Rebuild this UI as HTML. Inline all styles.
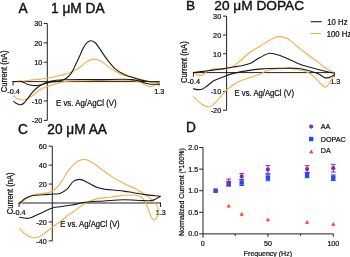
<!DOCTYPE html>
<html><head><meta charset="utf-8"><style>
html,body{margin:0;padding:0;background:#fff;width:350px;height:257px;overflow:hidden}
svg{display:block;filter:blur(0.4px)}
.t{stroke-width:0.4px}
text{font-family:"Liberation Sans",sans-serif;fill:#111;stroke:#111;stroke-width:0.22px}
</style></head><body>
<svg width="350" height="257" viewBox="0 0 350 257">
<text class="t" transform="translate(18.60,12.60) scale(1,1.06)" font-size="13.7" text-anchor="start">A</text>
<text class="t" transform="translate(51.00,12.50) scale(1,1.05)" font-size="13.7" text-anchor="start">1 μM DA</text>
<line x1="47.30" y1="23.50" x2="47.30" y2="120.40" stroke="#222" stroke-width="1.0"/>
<line x1="43.70" y1="23.46" x2="47.30" y2="23.46" stroke="#222" stroke-width="1.0"/>
<text transform="translate(42.30,26.26) scale(1,1.1)" font-size="7.3" text-anchor="end">30</text>
<line x1="43.70" y1="42.84" x2="47.30" y2="42.84" stroke="#222" stroke-width="1.0"/>
<text transform="translate(42.30,45.64) scale(1,1.1)" font-size="7.3" text-anchor="end">20</text>
<line x1="43.70" y1="62.22" x2="47.30" y2="62.22" stroke="#222" stroke-width="1.0"/>
<text transform="translate(42.30,65.02) scale(1,1.1)" font-size="7.3" text-anchor="end">10</text>
<line x1="43.70" y1="100.98" x2="47.30" y2="100.98" stroke="#222" stroke-width="1.0"/>
<text transform="translate(42.30,103.78) scale(1,1.1)" font-size="7.3" text-anchor="end">-10</text>
<line x1="43.70" y1="120.36" x2="47.30" y2="120.36" stroke="#222" stroke-width="1.0"/>
<text transform="translate(42.30,123.16) scale(1,1.1)" font-size="7.3" text-anchor="end">-20</text>
<line x1="13.00" y1="81.60" x2="159.00" y2="81.60" stroke="#222" stroke-width="1.0"/>
<line x1="13.00" y1="81.10" x2="13.00" y2="85.60" stroke="#222" stroke-width="1.0"/>
<line x1="159.00" y1="81.10" x2="159.00" y2="85.60" stroke="#222" stroke-width="1.0"/>
<text transform="translate(13.50,94.00) scale(1,1.1)" font-size="7.3" text-anchor="middle">-0.4</text>
<text transform="translate(159.20,93.90) scale(1,1.1)" font-size="7.3" text-anchor="middle">1.3</text>
<text transform="translate(7.40,71.40) rotate(-90) scale(1,1.1)" font-size="7.6" text-anchor="middle">Current (nA)</text>
<text transform="translate(56.00,105.60) scale(1,1.1)" font-size="7.85" text-anchor="start">E vs. Ag/AgCl (V)</text>
<path d="M13.00,81.60 C15.43,81.57 17.54,81.69 20.30,81.50 C23.94,81.25 28.61,80.42 32.90,79.90 C37.37,79.36 42.05,79.03 46.60,78.30 C51.18,77.57 55.97,76.59 60.30,75.50 C64.30,74.50 68.52,73.46 71.70,72.10 C74.18,71.04 76.05,69.79 78.00,68.50 C79.83,67.28 81.41,65.87 83.10,64.60 C84.74,63.37 86.22,61.92 88.00,61.00 C89.78,60.08 91.82,59.18 93.80,59.10 C95.82,59.02 97.93,59.64 100.00,60.60 C102.50,61.76 104.99,64.33 107.50,66.10 C109.96,67.83 112.38,69.62 114.90,71.10 C117.35,72.54 119.65,73.91 122.40,74.90 C125.43,76.00 129.18,76.44 132.40,77.20 C135.40,77.91 138.17,78.53 141.10,79.30 C144.13,80.09 147.25,81.46 150.30,81.90 C153.21,82.32 156.10,81.97 159.00,82.00" stroke="#f8ae45" stroke-width="1.1" fill="none" stroke-linejoin="round" stroke-linecap="round"/>
<path d="M159.00,82.50 C157.00,83.67 154.92,85.36 153.00,86.00 C151.45,86.51 150.03,86.78 148.50,86.50 C146.71,86.17 144.85,84.56 143.00,83.70 C141.18,82.86 139.37,81.93 137.50,81.40 C135.70,80.88 134.60,80.71 132.00,80.50 C125.76,79.99 110.83,80.36 100.00,80.50 C88.84,80.65 74.65,80.19 66.00,81.40 C60.52,82.17 56.99,83.51 52.80,84.80 C48.88,86.00 45.06,86.94 41.60,88.80 C38.12,90.67 34.89,94.14 32.00,96.00 C29.82,97.41 27.79,98.65 26.00,99.30 C24.69,99.77 23.71,100.05 22.40,100.00 C20.78,99.94 18.54,99.25 17.00,98.50 C15.67,97.85 14.73,96.83 13.60,96.00" stroke="#f8ae45" stroke-width="1.1" fill="none" stroke-linejoin="round" stroke-linecap="round"/>
<path d="M13.00,81.60 C15.60,81.53 18.79,81.06 20.80,81.40 C22.13,81.62 22.88,82.13 24.00,82.60 C25.27,83.14 26.56,84.02 28.00,84.50 C29.54,85.01 31.42,85.34 33.00,85.50 C34.40,85.64 35.60,85.64 37.00,85.50 C38.58,85.34 40.40,84.90 42.00,84.50 C43.52,84.12 44.84,83.60 46.40,83.20 C48.15,82.76 50.09,82.33 52.00,82.00 C53.96,81.66 56.06,81.59 58.00,81.20 C59.89,80.82 61.77,80.47 63.50,79.70 C65.27,78.91 67.06,77.83 68.50,76.50 C69.97,75.14 71.05,73.47 72.20,71.60 C73.54,69.42 74.67,66.65 75.90,64.10 C77.17,61.46 78.49,58.66 79.70,56.00 C80.85,53.46 81.81,50.73 83.00,48.50 C84.03,46.57 84.96,44.61 86.30,43.30 C87.48,42.14 88.96,40.94 90.40,40.80 C91.86,40.66 93.66,41.52 95.00,42.50 C96.51,43.61 97.48,45.57 98.80,47.40 C100.39,49.61 102.23,52.67 103.80,54.90 C105.10,56.75 106.02,58.03 107.50,59.90 C109.51,62.43 112.25,66.24 114.90,68.60 C117.25,70.69 119.83,72.25 122.40,73.60 C124.84,74.88 127.13,75.61 129.90,76.60 C133.24,77.79 137.52,79.23 141.10,80.10 C144.29,80.87 147.27,81.46 150.30,81.70 C153.23,81.94 156.10,81.63 159.00,81.60" stroke="#1a1a1a" stroke-width="1.1" fill="none" stroke-linejoin="round" stroke-linecap="round"/>
<path d="M159.00,84.20 C156.10,84.20 152.73,84.44 150.30,84.20 C148.51,84.03 147.21,83.75 145.70,83.30 C144.14,82.83 142.92,81.95 141.10,81.40 C138.61,80.65 135.98,79.99 132.00,79.60 C124.60,78.88 111.26,79.54 100.00,79.60 C87.41,79.66 69.42,79.21 60.00,80.00 C54.81,80.43 51.32,80.90 48.00,81.90 C45.47,82.66 43.54,83.72 41.60,84.80 C39.84,85.78 38.34,86.74 36.80,88.00 C35.13,89.37 33.54,91.02 32.00,92.80 C30.33,94.73 28.73,97.30 27.20,99.20 C25.91,100.80 24.74,102.55 23.50,103.50 C22.60,104.19 21.80,104.70 20.80,104.80 C19.66,104.91 18.19,104.33 17.00,103.80 C15.79,103.27 14.73,102.33 13.60,101.60" stroke="#1a1a1a" stroke-width="1.1" fill="none" stroke-linejoin="round" stroke-linecap="round"/>
<text class="t" transform="translate(186.00,10.00) scale(1,1.0)" font-size="13.7" text-anchor="start">B</text>
<text class="t" transform="translate(214.30,10.00) scale(1,1.0)" font-size="13.7" text-anchor="start">20 μM DOPAC</text>
<line x1="226.60" y1="16.10" x2="226.60" y2="110.20" stroke="#222" stroke-width="1.0"/>
<line x1="223.00" y1="16.14" x2="226.60" y2="16.14" stroke="#222" stroke-width="1.0"/>
<text transform="translate(221.20,18.94) scale(1,1.1)" font-size="7.3" text-anchor="end">30</text>
<line x1="223.00" y1="34.96" x2="226.60" y2="34.96" stroke="#222" stroke-width="1.0"/>
<text transform="translate(221.20,37.76) scale(1,1.1)" font-size="7.3" text-anchor="end">20</text>
<line x1="223.00" y1="53.78" x2="226.60" y2="53.78" stroke="#222" stroke-width="1.0"/>
<text transform="translate(221.20,56.58) scale(1,1.1)" font-size="7.3" text-anchor="end">10</text>
<line x1="223.00" y1="91.42" x2="226.60" y2="91.42" stroke="#222" stroke-width="1.0"/>
<text transform="translate(221.20,94.22) scale(1,1.1)" font-size="7.3" text-anchor="end">-10</text>
<line x1="223.00" y1="110.24" x2="226.60" y2="110.24" stroke="#222" stroke-width="1.0"/>
<text transform="translate(221.20,113.04) scale(1,1.1)" font-size="7.3" text-anchor="end">-20</text>
<line x1="193.40" y1="72.60" x2="334.50" y2="72.60" stroke="#222" stroke-width="1.0"/>
<line x1="193.40" y1="72.10" x2="193.40" y2="76.60" stroke="#222" stroke-width="1.0"/>
<line x1="334.50" y1="72.10" x2="334.50" y2="76.60" stroke="#222" stroke-width="1.0"/>
<text transform="translate(193.70,84.40) scale(1,1.1)" font-size="7.3" text-anchor="middle">-0.4</text>
<text transform="translate(335.20,84.40) scale(1,1.1)" font-size="7.3" text-anchor="middle">1.3</text>
<text transform="translate(187.10,62.20) rotate(-90) scale(1,1.1)" font-size="7.6" text-anchor="middle">Current (nA)</text>
<text transform="translate(234.60,96.00) scale(1,1.1)" font-size="7.7" text-anchor="start">E vs. Ag/AgCl (V)</text>
<line x1="310.80" y1="21.70" x2="321.70" y2="21.70" stroke="#1a1a1a" stroke-width="1.1"/>
<text transform="translate(327.20,24.50) scale(1,1.1)" font-size="7.8" text-anchor="start">10 Hz</text>
<line x1="310.60" y1="33.50" x2="320.90" y2="33.50" stroke="#f8ae45" stroke-width="1.1"/>
<text transform="translate(326.70,36.50) scale(1,1.1)" font-size="7.8" text-anchor="start">100 Hz</text>
<path d="M193.40,72.60 C194.87,73.33 196.43,74.34 197.80,74.80 C198.90,75.17 199.79,75.58 200.90,75.40 C202.34,75.17 204.07,73.77 205.60,72.80 C207.17,71.81 208.45,70.16 210.20,69.50 C212.05,68.81 214.47,68.90 216.50,68.90 C218.40,68.90 219.89,69.55 222.00,69.40 C224.91,69.20 229.26,68.45 232.30,67.00 C235.23,65.60 237.30,63.23 240.00,61.00 C243.15,58.41 246.55,54.80 250.00,52.30 C253.23,49.95 256.68,48.34 260.00,46.30 C263.34,44.24 266.68,41.69 270.00,40.00 C273.01,38.47 275.97,36.55 279.00,36.40 C281.97,36.25 285.07,37.48 288.00,39.00 C291.43,40.78 294.76,44.43 298.00,47.00 C301.05,49.42 303.80,51.67 306.90,54.00 C310.18,56.47 314.08,59.04 317.20,61.40 C319.90,63.44 322.07,65.55 324.60,67.30 C327.01,68.97 330.09,70.64 332.00,71.70 C333.18,72.35 333.93,72.70 334.90,73.20" stroke="#f8ae45" stroke-width="1.1" fill="none" stroke-linejoin="round" stroke-linecap="round"/>
<path d="M334.90,73.60 C333.27,76.40 331.75,79.61 330.00,82.00 C328.52,84.03 326.95,87.05 325.30,87.20 C323.77,87.34 322.07,84.93 320.50,83.50 C318.76,81.91 317.18,79.69 315.40,78.00 C313.68,76.36 311.89,74.69 310.00,73.50 C308.25,72.40 306.37,71.62 304.50,71.00 C302.70,70.40 301.13,70.17 299.00,69.80 C296.09,69.30 292.16,68.66 288.60,68.50 C284.87,68.33 280.81,68.53 277.10,68.90 C273.59,69.25 269.77,69.61 266.90,70.60 C264.59,71.39 263.32,72.78 261.00,73.80 C257.95,75.15 253.74,76.27 250.00,77.60 C246.08,79.00 241.87,79.97 238.00,82.00 C233.85,84.18 229.23,87.55 226.00,90.50 C223.35,92.92 221.69,95.66 219.60,98.00 C217.70,100.13 215.93,102.44 214.00,104.00 C212.38,105.31 210.84,106.83 209.00,107.00 C206.95,107.19 204.48,105.85 202.20,104.50 C199.32,102.79 196.40,99.43 193.50,96.90" stroke="#f8ae45" stroke-width="1.1" fill="none" stroke-linejoin="round" stroke-linecap="round"/>
<path d="M193.40,72.60 C198.93,71.90 204.92,71.16 210.00,70.50 C214.32,69.94 218.06,69.49 222.00,68.90 C225.85,68.32 230.11,67.52 233.40,67.00 C235.90,66.60 237.58,66.48 240.00,66.00 C243.00,65.40 246.76,64.84 250.00,63.50 C253.44,62.07 256.60,59.22 260.00,57.50 C263.28,55.84 266.62,53.61 270.00,53.30 C273.29,53.00 276.71,54.46 280.00,55.50 C283.38,56.57 286.68,58.25 290.00,59.70 C293.34,61.15 296.41,62.87 300.00,64.20 C303.96,65.67 308.37,66.79 312.80,68.00 C317.52,69.29 323.49,70.77 327.50,71.70 C330.25,72.34 332.17,72.70 334.50,73.20" stroke="#1a1a1a" stroke-width="1.1" fill="none" stroke-linejoin="round" stroke-linecap="round"/>
<path d="M334.50,74.70 C332.67,75.67 330.78,77.16 329.00,77.60 C327.50,77.97 326.11,78.03 324.60,77.60 C322.70,77.05 320.94,74.95 318.70,73.90 C316.10,72.68 312.93,71.87 309.80,71.00 C306.39,70.05 303.14,68.99 299.00,68.50 C293.59,67.85 286.25,68.23 280.00,68.30 C273.92,68.37 267.91,68.42 262.00,68.90 C256.22,69.37 250.02,70.26 244.90,71.10 C240.67,71.79 237.19,72.36 233.40,73.40 C229.55,74.45 225.53,76.05 222.00,77.40 C218.89,78.59 215.87,79.49 213.30,81.00 C210.92,82.40 209.01,84.56 207.00,86.00 C205.27,87.24 203.74,88.61 202.00,89.20 C200.40,89.74 198.52,89.71 197.00,89.60 C195.69,89.51 194.60,89.07 193.40,88.80" stroke="#1a1a1a" stroke-width="1.1" fill="none" stroke-linejoin="round" stroke-linecap="round"/>
<text class="t" transform="translate(18.00,134.00) scale(1,1.04)" font-size="13.7" text-anchor="start">C</text>
<text class="t" transform="translate(47.30,134.20) scale(1,1.04)" font-size="13.7" text-anchor="start">20 μM AA</text>
<line x1="52.30" y1="146.20" x2="52.30" y2="240.90" stroke="#222" stroke-width="1.0"/>
<line x1="48.70" y1="146.18" x2="52.30" y2="146.18" stroke="#222" stroke-width="1.0"/>
<text transform="translate(46.80,148.98) scale(1,1.1)" font-size="7.3" text-anchor="end">60</text>
<line x1="48.70" y1="165.12" x2="52.30" y2="165.12" stroke="#222" stroke-width="1.0"/>
<text transform="translate(46.80,167.92) scale(1,1.1)" font-size="7.3" text-anchor="end">40</text>
<line x1="48.70" y1="184.06" x2="52.30" y2="184.06" stroke="#222" stroke-width="1.0"/>
<text transform="translate(46.80,186.86) scale(1,1.1)" font-size="7.3" text-anchor="end">20</text>
<line x1="48.70" y1="221.94" x2="52.30" y2="221.94" stroke="#222" stroke-width="1.0"/>
<text transform="translate(46.80,224.74) scale(1,1.1)" font-size="7.3" text-anchor="end">-20</text>
<line x1="48.70" y1="240.88" x2="52.30" y2="240.88" stroke="#222" stroke-width="1.0"/>
<text transform="translate(46.80,243.68) scale(1,1.1)" font-size="7.3" text-anchor="end">-40</text>
<line x1="19.10" y1="203.00" x2="160.50" y2="203.00" stroke="#222" stroke-width="1.0"/>
<line x1="19.10" y1="202.50" x2="19.10" y2="207.00" stroke="#222" stroke-width="1.0"/>
<line x1="160.50" y1="202.50" x2="160.50" y2="207.00" stroke="#222" stroke-width="1.0"/>
<text transform="translate(19.30,215.00) scale(1,1.1)" font-size="7.3" text-anchor="middle">-0.4</text>
<text transform="translate(160.80,215.00) scale(1,1.1)" font-size="7.3" text-anchor="middle">1.3</text>
<text transform="translate(12.60,193.30) rotate(-90) scale(1,1.1)" font-size="7.6" text-anchor="middle">Current (nA)</text>
<text transform="translate(60.30,227.00) scale(1,1.1)" font-size="7.7" text-anchor="start">E vs. Ag/AgCl (V)</text>
<path d="M19.30,203.50 C20.03,203.50 20.81,203.82 21.50,203.50 C22.42,203.07 23.09,201.44 24.00,200.50 C24.92,199.54 25.62,198.66 27.00,197.80 C29.18,196.44 33.07,194.82 36.40,194.00 C39.91,193.14 44.33,193.84 47.60,192.90 C50.41,192.09 52.90,190.81 55.00,189.20 C57.00,187.67 58.14,186.00 60.00,183.60 C62.87,179.90 66.73,172.70 70.00,168.70 C72.50,165.63 74.69,162.71 77.40,161.20 C79.72,159.91 82.43,159.30 84.90,159.50 C87.43,159.70 89.82,161.06 92.40,162.50 C95.59,164.29 98.97,167.49 102.30,169.90 C105.61,172.29 108.78,174.67 112.30,176.90 C116.00,179.25 120.03,181.56 124.00,183.60 C127.93,185.62 132.48,187.24 136.00,189.10 C138.93,190.65 141.23,192.14 143.80,193.80 C146.43,195.50 149.45,197.23 151.60,199.20 C153.47,200.91 154.99,202.88 156.20,204.70 C157.23,206.25 158.23,207.78 158.60,209.30 C158.92,210.61 158.85,211.92 158.60,213.20 C158.34,214.53 157.67,215.91 157.00,217.10 C156.36,218.24 155.56,220.04 154.70,220.20 C153.97,220.34 153.00,219.48 152.30,218.70 C151.35,217.64 150.73,215.69 150.00,214.00 C149.18,212.09 148.50,209.79 147.70,207.80 C146.93,205.90 146.24,204.01 145.30,202.30 C144.40,200.65 143.64,198.85 142.20,197.70 C140.62,196.44 138.46,195.76 136.00,195.30 C132.70,194.68 128.14,195.02 124.00,195.30 C119.50,195.60 114.55,196.64 110.00,197.20 C105.69,197.73 101.53,197.58 97.40,198.60 C93.15,199.65 88.83,201.37 84.90,203.50 C80.92,205.66 76.72,209.52 73.70,211.50 C71.73,212.79 70.37,213.28 68.70,214.50 C66.80,215.89 65.21,217.75 63.00,219.50 C60.22,221.70 56.29,224.17 53.20,226.50 C50.32,228.67 47.42,231.26 45.00,233.00 C43.19,234.30 41.99,235.43 40.10,236.20 C37.96,237.08 35.14,238.00 32.70,237.70 C30.10,237.38 27.22,235.60 25.00,234.00 C22.88,232.47 21.40,230.27 19.60,228.40" stroke="#f8ae45" stroke-width="1.1" fill="none" stroke-linejoin="round" stroke-linecap="round"/>
<path d="M19.10,203.50 C19.90,202.83 20.61,202.23 21.50,201.50 C22.60,200.60 23.67,199.40 25.20,198.50 C27.19,197.33 29.89,196.13 32.70,195.50 C36.01,194.76 40.34,195.06 43.90,194.80 C47.15,194.56 50.34,194.21 53.20,194.00 C55.64,193.82 57.78,194.35 60.00,193.60 C62.56,192.74 65.25,190.63 67.50,188.60 C69.84,186.49 71.37,182.61 73.70,181.10 C75.59,179.88 77.76,179.28 79.90,179.40 C82.30,179.54 84.75,181.21 87.40,182.40 C90.52,183.80 93.80,186.18 97.40,187.40 C101.23,188.70 105.51,189.19 109.80,189.80 C114.36,190.45 119.78,190.54 124.00,191.10 C127.44,191.55 130.02,192.15 133.30,192.70 C136.98,193.31 140.84,194.02 145.00,194.60 C149.73,195.26 155.13,195.80 160.20,196.40" stroke="#1a1a1a" stroke-width="1.1" fill="none" stroke-linejoin="round" stroke-linecap="round"/>
<path d="M160.20,196.40 C157.70,197.73 155.43,199.69 152.70,200.40 C149.85,201.15 147.06,200.64 143.40,200.60 C138.11,200.55 130.51,199.74 124.00,199.80 C117.38,199.86 110.59,200.58 104.00,201.00 C97.56,201.41 90.62,201.51 84.90,202.30 C80.15,202.95 76.23,204.24 72.00,205.00 C67.94,205.73 63.44,206.29 60.00,206.80 C57.41,207.18 55.78,207.07 53.20,207.80 C49.48,208.85 44.29,211.59 40.10,213.40 C36.22,215.08 32.53,217.76 28.90,218.30 C25.72,218.77 22.70,217.57 19.60,217.20" stroke="#1a1a1a" stroke-width="1.1" fill="none" stroke-linejoin="round" stroke-linecap="round"/>
<text class="t" transform="translate(186.00,132.30) scale(1,1.06)" font-size="13.7" text-anchor="start">D</text>
<line x1="203.00" y1="147.50" x2="203.00" y2="237.70" stroke="#222" stroke-width="1.0"/>
<line x1="199.20" y1="147.50" x2="203.00" y2="147.50" stroke="#222" stroke-width="1.0"/>
<text transform="translate(198.20,150.00) scale(1,1.1)" font-size="7.1" text-anchor="end">2.0</text>
<line x1="199.20" y1="169.10" x2="203.00" y2="169.10" stroke="#222" stroke-width="1.0"/>
<text transform="translate(198.20,171.60) scale(1,1.1)" font-size="7.1" text-anchor="end">1.5</text>
<line x1="199.20" y1="190.70" x2="203.00" y2="190.70" stroke="#222" stroke-width="1.0"/>
<text transform="translate(198.20,193.20) scale(1,1.1)" font-size="7.1" text-anchor="end">1.0</text>
<line x1="199.20" y1="212.30" x2="203.00" y2="212.30" stroke="#222" stroke-width="1.0"/>
<text transform="translate(198.20,214.80) scale(1,1.1)" font-size="7.1" text-anchor="end">0.5</text>
<line x1="199.20" y1="233.90" x2="203.00" y2="233.90" stroke="#222" stroke-width="1.0"/>
<text transform="translate(198.20,236.40) scale(1,1.1)" font-size="7.1" text-anchor="end">0.0</text>
<line x1="203.00" y1="233.90" x2="333.30" y2="233.90" stroke="#222" stroke-width="1.0"/>
<line x1="267.90" y1="233.90" x2="267.90" y2="236.80" stroke="#222" stroke-width="1.0"/>
<text transform="translate(267.90,245.90) scale(1,1.1)" font-size="7.1" text-anchor="middle">50</text>
<line x1="333.30" y1="233.90" x2="333.30" y2="236.80" stroke="#222" stroke-width="1.0"/>
<text transform="translate(333.30,245.90) scale(1,1.1)" font-size="7.1" text-anchor="middle">100</text>
<line x1="235.20" y1="233.90" x2="235.20" y2="235.90" stroke="#222" stroke-width="1.0"/>
<line x1="300.60" y1="233.90" x2="300.60" y2="235.90" stroke="#222" stroke-width="1.0"/>
<text transform="translate(202.80,245.90) scale(1,1.1)" font-size="7.1" text-anchor="middle">0</text>
<text transform="translate(267.90,255.90) scale(1,1.1)" font-size="7.0" text-anchor="middle">Frequency (Hz)</text>
<text transform="translate(184.00,192.10) rotate(-90) scale(1,1.1)" font-size="7.0" text-anchor="middle">Normalized Current (*100%)</text>
<circle cx="311.2" cy="126.6" r="2.1" fill="#8a2aa6"/>
<rect x="309.0" y="136.8" width="4.4" height="4.4" fill="#1f4bf5"/>
<path d="M309.1,153.3 L313.3,153.3 L311.2,149.6 Z" fill="#ff3b1f"/>
<text transform="translate(320.80,129.20) scale(1,1.1)" font-size="7.2" text-anchor="start">AA</text>
<text transform="translate(320.80,141.50) scale(1,1.1)" font-size="7.2" text-anchor="start">DOPAC</text>
<text transform="translate(320.80,153.40) scale(1,1.1)" font-size="7.2" text-anchor="start">DA</text>
<path d="M213.5,192.4 L217.7,192.4 L215.6,188.8 Z" fill="#ff3b1f"/>
<path d="M226.6,207.5 L230.8,207.5 L228.7,203.9 Z" fill="#ff3b1f"/>
<path d="M239.6,215.7 L243.8,215.7 L241.7,212.1 Z" fill="#ff3b1f"/>
<path d="M265.8,221.3 L270.0,221.3 L267.9,217.7 Z" fill="#ff3b1f"/>
<path d="M305.0,223.7 L309.2,223.7 L307.1,220.1 Z" fill="#ff3b1f"/>
<path d="M331.2,225.7 L335.4,225.7 L333.3,222.1 Z" fill="#ff3b1f"/>
<rect x="213.4" y="188.5" width="4.4" height="4.4" fill="#1f4bf5"/>
<line x1="228.66" y1="181.63" x2="228.66" y2="185.95" stroke="#1f4bf5" stroke-width="1"/>
<line x1="226.26" y1="181.63" x2="231.06" y2="181.63" stroke="#1f4bf5" stroke-width="1"/>
<line x1="226.26" y1="185.95" x2="231.06" y2="185.95" stroke="#1f4bf5" stroke-width="1"/>
<rect x="226.5" y="181.6" width="4.4" height="4.4" fill="#1f4bf5"/>
<line x1="241.74" y1="179.47" x2="241.74" y2="185.52" stroke="#1f4bf5" stroke-width="1"/>
<line x1="239.34" y1="179.47" x2="244.14" y2="179.47" stroke="#1f4bf5" stroke-width="1"/>
<line x1="239.34" y1="185.52" x2="244.14" y2="185.52" stroke="#1f4bf5" stroke-width="1"/>
<rect x="239.5" y="180.3" width="4.4" height="4.4" fill="#1f4bf5"/>
<line x1="267.90" y1="174.72" x2="267.90" y2="180.76" stroke="#1f4bf5" stroke-width="1"/>
<line x1="265.50" y1="174.72" x2="270.30" y2="174.72" stroke="#1f4bf5" stroke-width="1"/>
<line x1="265.50" y1="180.76" x2="270.30" y2="180.76" stroke="#1f4bf5" stroke-width="1"/>
<rect x="265.7" y="175.5" width="4.4" height="4.4" fill="#1f4bf5"/>
<line x1="307.14" y1="172.56" x2="307.14" y2="177.74" stroke="#1f4bf5" stroke-width="1"/>
<line x1="304.74" y1="172.56" x2="309.54" y2="172.56" stroke="#1f4bf5" stroke-width="1"/>
<line x1="304.74" y1="177.74" x2="309.54" y2="177.74" stroke="#1f4bf5" stroke-width="1"/>
<rect x="304.9" y="172.9" width="4.4" height="4.4" fill="#1f4bf5"/>
<line x1="333.30" y1="174.93" x2="333.30" y2="180.55" stroke="#1f4bf5" stroke-width="1"/>
<line x1="330.90" y1="174.93" x2="335.70" y2="174.93" stroke="#1f4bf5" stroke-width="1"/>
<line x1="330.90" y1="180.55" x2="335.70" y2="180.55" stroke="#1f4bf5" stroke-width="1"/>
<rect x="331.1" y="175.5" width="4.4" height="4.4" fill="#1f4bf5"/>
<circle cx="215.6" cy="190.7" r="2.1" fill="#8a2aa6"/>
<line x1="228.66" y1="179.04" x2="228.66" y2="185.95" stroke="#8a2aa6" stroke-width="1"/>
<line x1="226.26" y1="179.04" x2="231.06" y2="179.04" stroke="#8a2aa6" stroke-width="1"/>
<line x1="226.26" y1="185.95" x2="231.06" y2="185.95" stroke="#8a2aa6" stroke-width="1"/>
<circle cx="228.7" cy="182.5" r="2.1" fill="#8a2aa6"/>
<line x1="241.74" y1="173.42" x2="241.74" y2="179.47" stroke="#8a2aa6" stroke-width="1"/>
<line x1="239.34" y1="173.42" x2="244.14" y2="173.42" stroke="#8a2aa6" stroke-width="1"/>
<line x1="239.34" y1="179.47" x2="244.14" y2="179.47" stroke="#8a2aa6" stroke-width="1"/>
<circle cx="241.7" cy="176.4" r="2.1" fill="#8a2aa6"/>
<line x1="267.90" y1="165.64" x2="267.90" y2="173.42" stroke="#8a2aa6" stroke-width="1"/>
<line x1="265.50" y1="165.64" x2="270.30" y2="165.64" stroke="#8a2aa6" stroke-width="1"/>
<line x1="265.50" y1="173.42" x2="270.30" y2="173.42" stroke="#8a2aa6" stroke-width="1"/>
<circle cx="267.9" cy="169.5" r="2.1" fill="#8a2aa6"/>
<line x1="307.14" y1="165.64" x2="307.14" y2="172.56" stroke="#8a2aa6" stroke-width="1"/>
<line x1="304.74" y1="165.64" x2="309.54" y2="165.64" stroke="#8a2aa6" stroke-width="1"/>
<line x1="304.74" y1="172.56" x2="309.54" y2="172.56" stroke="#8a2aa6" stroke-width="1"/>
<circle cx="307.1" cy="169.1" r="2.1" fill="#8a2aa6"/>
<line x1="333.30" y1="164.35" x2="333.30" y2="172.12" stroke="#8a2aa6" stroke-width="1"/>
<line x1="330.90" y1="164.35" x2="335.70" y2="164.35" stroke="#8a2aa6" stroke-width="1"/>
<line x1="330.90" y1="172.12" x2="335.70" y2="172.12" stroke="#8a2aa6" stroke-width="1"/>
<circle cx="333.3" cy="168.2" r="2.1" fill="#8a2aa6"/>
</svg>
</body></html>
